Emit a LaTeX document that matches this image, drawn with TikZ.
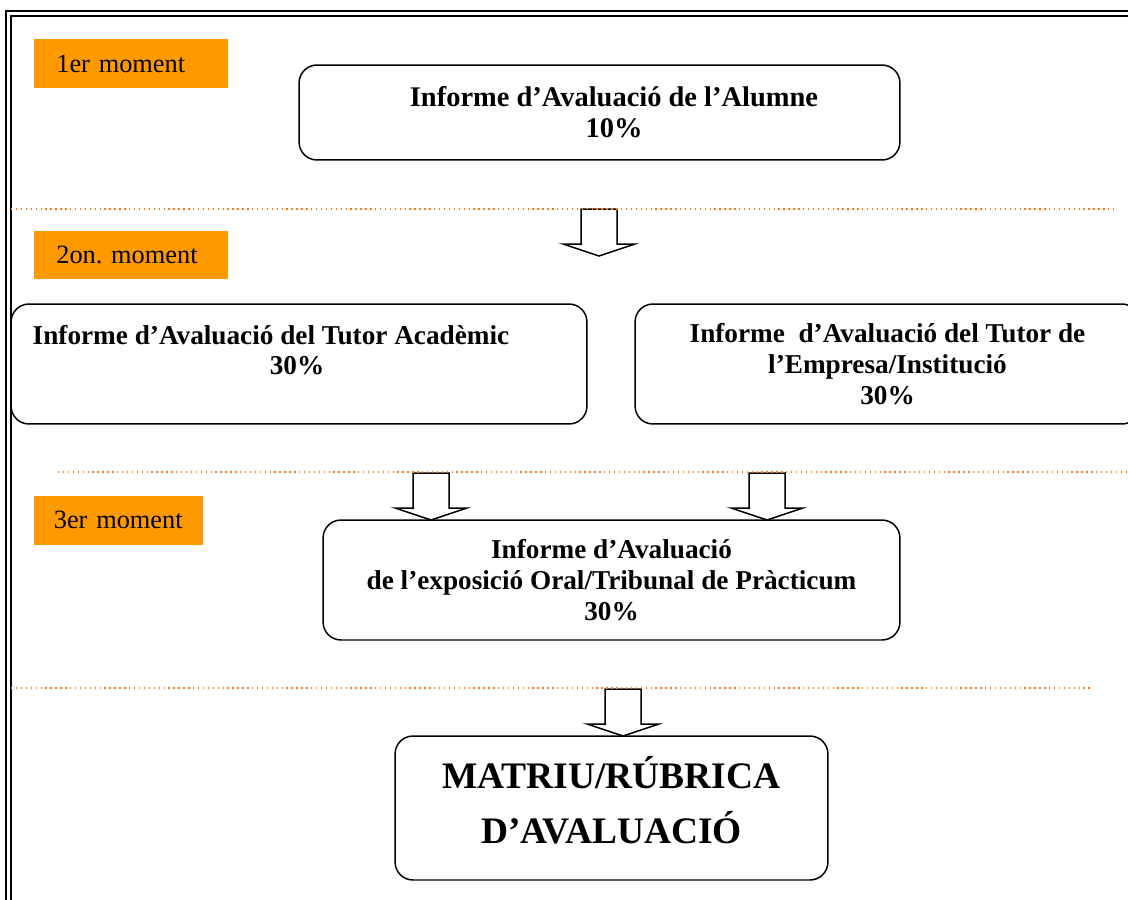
\documentclass[tikz,border=0pt]{standalone}
\usepackage{fontspec}
\setmainfont{Liberation Serif}
\usepackage{xcolor}
\definecolor{taronja}{HTML}{FF9900}
\definecolor{puntejat}{HTML}{FF7A1A}

\tikzset{
  caixa/.style={draw, rounded corners=0.36cm, line width=0.85pt},
  moment/.style={fill=taronja, anchor=west, minimum height=0.98cm, inner xsep=0.44cm, align=left, font=\fontsize{15}{17}\selectfont},
  negreta/.style={font=\fontsize{15.5}{17.6}\selectfont\bfseries, align=center},
  gran/.style={font=\fontsize{21.3}{31}\selectfont\bfseries, align=center},
  separa/.style={puntejat, dotted, line width=0.8pt},
  fletxa/.style={draw, line width=0.85pt, fill=white},
  vora/.style={line width=1.1pt}
}
% fletxa grossa cap avall
\newcommand{\fletxaavall}[1]{\draw[fletxa] (#1) ++(-18,0) -- ++(0,35) -- ++(-18,0) -- ++(36,12) -- ++(36,-12) -- ++(-18,0) -- ++(0,-35) -- cycle;}

\begin{document}
\begin{tikzpicture}[x=0.02cm, y=-0.02cm]
        \useasboundingbox (0,0) rectangle (1128,899);
        \clip (0,0) rectangle (1128,899);
        % Marc doble
        \draw[vora] (6,11) rectangle (1145,915);
        \draw[vora] (11,16) rectangle (1140,910);

        % Moments
        \node[moment, text width=3.0cm] (m1) at (34,63.5) {1er moment};
        \node[moment, text width=3.0cm] (m2) at (34,255) {2on.\ moment};
        \node[moment, text width=2.6cm, inner xsep=0.39cm] (m3) at (34,520) {3er moment};

        % Caixes
        \node[caixa, minimum width=12.02cm, minimum height=1.9cm] (alumne) at (599.5,112.5) {};
        \node[negreta, font=\fontsize{16.2}{17.6}\selectfont\bfseries] (talumne) at (614,112) {Informe d’Avaluació de l’Alumne\\10\%};

        \node[caixa, minimum width=11.52cm, minimum height=2.4cm] (acad) at (299,364) {};
        \node[negreta] (tacad) at (271,335) {Informe d’Avaluació del Tutor Acadèmic};
        \node[negreta] (pacad) at (297,366) {30\%};

        \node[caixa, negreta, minimum width=10.1cm, minimum height=2.4cm] (empresa) at (887.5,364)
            {Informe\ \ d’Avaluació del Tutor de\\l’Empresa/Institució\\30\%};

        \node[caixa, negreta, minimum width=11.54cm, minimum height=2.4cm] (oral) at (611.5,580)
            {Informe d’Avaluació\\de l’exposició Oral/Tribunal de Pràcticum\\30\%};

        \node[caixa, minimum width=8.66cm, minimum height=2.88cm] (matriu) at (611.5,808) {};
        \node[gran] (tmatriu) at (611.5,800) {MATRIU/RÚBRICA\\D’AVALUACIÓ};

        % Fletxes
        \coordinate (f1) at (599,209);
        \coordinate (f2) at (431,473);
        \coordinate (f3) at (767,473);
        \coordinate (f4) at (623,689);
        \fletxaavall{f1}
        \fletxaavall{f2}
        \fletxaavall{f3}
        \fletxaavall{f4}

        % Linies de punts
        \draw[separa] (11,209) -- (1115,209);
        \draw[separa] (58,472) -- (1128,472);
        \draw[separa] (11,688) -- (1092,688);
    \end{tikzpicture}
\end{document}
